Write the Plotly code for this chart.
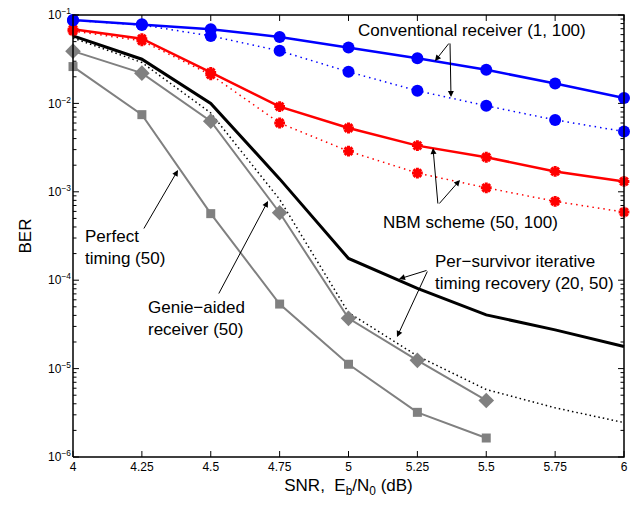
import math
import plotly.graph_objects as go

snr = [4, 4.25, 4.5, 4.75, 5, 5.25, 5.5, 5.75, 6]
snr_short = [4, 4.25, 4.5, 4.75, 5, 5.25, 5.5]

conv_solid = [0.088, 0.0785, 0.069, 0.0565, 0.0428, 0.0325, 0.024, 0.0168, 0.0115]
conv_dotted = [0.087, 0.077, 0.058, 0.0393, 0.0228, 0.0139, 0.0094, 0.0065, 0.0048]
nbm_solid = [0.069, 0.054, 0.0224, 0.0092, 0.00527, 0.00333, 0.00246, 0.0017, 0.00131]
nbm_dotted = [0.066, 0.051, 0.0211, 0.006, 0.00288, 0.00163, 0.00111, 0.00078, 0.00059]
psr_solid = [0.058, 0.0316, 0.01, 0.0014, 1.76e-4, 8.1e-5, 4.05e-5, 2.74e-5, 1.78e-5]
psr_dotted = [0.055, 0.029, 0.0078, 8.2e-4, 4.3e-5, 1.39e-5, 5.8e-6, 3.6e-6, 2.45e-6]
genie = [0.039, 0.022, 0.0063, 5.8e-4, 3.7e-5, 1.24e-5, 4.36e-6]
perfect = [0.0261, 0.00746, 5.66e-4, 5.37e-5, 1.12e-5, 3.2e-6, 1.64e-6]

y_tickvals = [1e-6, 1e-5, 1e-4, 1e-3, 1e-2, 1e-1]
y_ticktext = ["10<sup>−6</sup>", "10<sup>−5</sup>", "10<sup>−4</sup>",
              "10<sup>−3</sup>", "10<sup>−2</sup>", "10<sup>−1</sup>"]
y_minor = [m * 10.0 ** e for e in range(-6, -1) for m in range(2, 10)]
x_ticktext = ["4", "4.25", "4.5", "4.75", "5", "5.25", "5.5", "5.75", "6"]

X_LIM = [4, 6]
Y_LIM_LOG = [-6, -1]

GRAY = "#808080"
FAM = "Liberation Sans, Arial, sans-serif"
fig = go.Figure()

# plot area in pixels
L, R, T, B = 72, 625, 14, 458
W, H = R - L, B - T
PAD = 1.0  # px of padding so the box lines sit fully inside the clip area

x0, x1 = X_LIM
y0, y1 = 10 ** Y_LIM_LOG[0], 10 ** Y_LIM_LOG[1]
dec = Y_LIM_LOG[1] - Y_LIM_LOG[0]
xpad = PAD * (x1 - x0) / (W - 2 * PAD)
ypad = PAD * dec / (H - 2 * PAD)
x_range = [x0 - xpad, x1 + xpad]
y_range = [Y_LIM_LOG[0] - ypad, Y_LIM_LOG[1] + ypad]

def ylog_shift(v, pxl):
    return 10 ** (math.log10(v) + pxl * dec / H)
def x_shift(v, pxl):
    return v + pxl * (x1 - x0) / W

# inside tick marks on all four sides
tx, ty = [], []
for v in snr:
    tx += [v, v, None, v, v, None]
    ty += [y0, ylog_shift(y0, 6), None, y1, ylog_shift(y1, -6), None]
for vals, tl in [(y_tickvals, 6), (y_minor, 3.5)]:
    for v in vals:
        tx += [x0, x_shift(x0, tl), None, x1, x_shift(x1, -tl), None]
        ty += [v, v, None, v, v, None]
fig.add_trace(go.Scatter(x=tx, y=ty, mode="lines", line=dict(color="black", width=1),
                         showlegend=False, hoverinfo="skip"))

def add(x, y, color, width, dash, symbol=None, msize=None, mline=None):
    mode = "lines+markers" if symbol else "lines"
    marker = {}
    if symbol:
        marker = dict(symbol=symbol, size=msize, color=color)
        if mline:
            marker["line"] = dict(color=color, width=mline)
    fig.add_trace(go.Scatter(x=x, y=y, mode=mode, cliponaxis=False,
                             line=dict(color=color, width=width, dash=dash),
                             marker=marker, showlegend=False))

add(snr, psr_dotted, "black", 1.5, "1.5px,3px")
add(snr, psr_solid, "black", 3, "solid")
add(snr_short, perfect, GRAY, 2, "solid", "square", 9)
add(snr_short, genie, GRAY, 2, "solid", "diamond", 12)
add(snr, nbm_dotted, "red", 1.5, "1.5px,4px", "asterisk-open", 9, 3)
add(snr, nbm_solid, "red", 2.5, "solid", "asterisk-open", 9, 3)
add(snr, conv_dotted, "blue", 1.5, "1.5px,4px", "circle", 12)
add(snr, conv_solid, "blue", 2.5, "solid", "circle", 12)

# axes box
fig.add_trace(go.Scatter(x=[x0, x1, x1, x0, x0], y=[y0, y0, y1, y1, y0], mode="lines",
                         line=dict(color="black", width=1.5), showlegend=False,
                         hoverinfo="skip"))

def px(x, y):
    return (x - L) / W, 1 - (y - T) / H

font = dict(family=FAM, size=17, color="black")
texts = [
    ("Conventional receiver (1, 100)", 472, 31, "center"),
    ("NBM scheme (50, 100)", 470, 222, "center"),
    ("Per−survivor iterative<br>timing recovery (20, 50)", 433, 272, "left"),
    ("Perfect<br>timing (50)", 83, 247, "left"),
    ("Genie−aided<br>receiver (50)", 146, 318, "left"),
]
for t, x, y, al in texts:
    xx, yy = px(x, y)
    fig.add_annotation(text=t, x=xx, y=yy, xref="paper", yref="paper",
                       showarrow=False, xanchor=al, yanchor="middle", align=al, font=font)

arrows = [
    ((450, 42), (435, 61)),
    ((450, 42), (451, 97)),
    ((438, 205), (433, 148)),
    ((438, 205), (460, 180)),
    ((428, 270), (399, 279)),
    ((428, 270), (397, 337)),
    ((143, 230), (178, 170)),
    ((218, 295), (268, 201)),
]
for (ax_, ay_), (hx, hy) in arrows:
    xx, yy = px(hx, hy)
    fig.add_annotation(x=xx, y=yy, xref="paper", yref="paper", text="",
                       showarrow=True, ax=ax_ - hx, ay=ay_ - hy, axref="pixel", ayref="pixel",
                       arrowhead=2, arrowsize=1.2, arrowwidth=1, arrowcolor="black")

fig.update_layout(
    width=635, height=510, margin=dict(l=72, r=10, t=14, b=52),
    plot_bgcolor="white", paper_bgcolor="white",
    xaxis=dict(range=x_range, tickmode="array", tickvals=snr, ticktext=x_ticktext,
               ticks="", showline=False, showgrid=False, zeroline=False, automargin=False,
               tickfont=dict(family=FAM, size=12, color="black"),
               title=dict(text="SNR,  E<sub>b</sub>/N<sub>0</sub> (dB)", standoff=6,
                          font=dict(family=FAM, size=17, color="black"))),
    yaxis=dict(type="log", range=y_range, tickmode="array", tickvals=y_tickvals,
               ticktext=y_ticktext, ticks="", showline=False,
               showgrid=False, zeroline=False, automargin=False,
               tickfont=dict(family=FAM, size=12, color="black"),
               title=dict(text="BER", standoff=12,
                          font=dict(family=FAM, size=17, color="black"))),
)
fig.write_html("out.html", config={"displayModeBar": False},
               post_script="document.body.style.margin='0';")
